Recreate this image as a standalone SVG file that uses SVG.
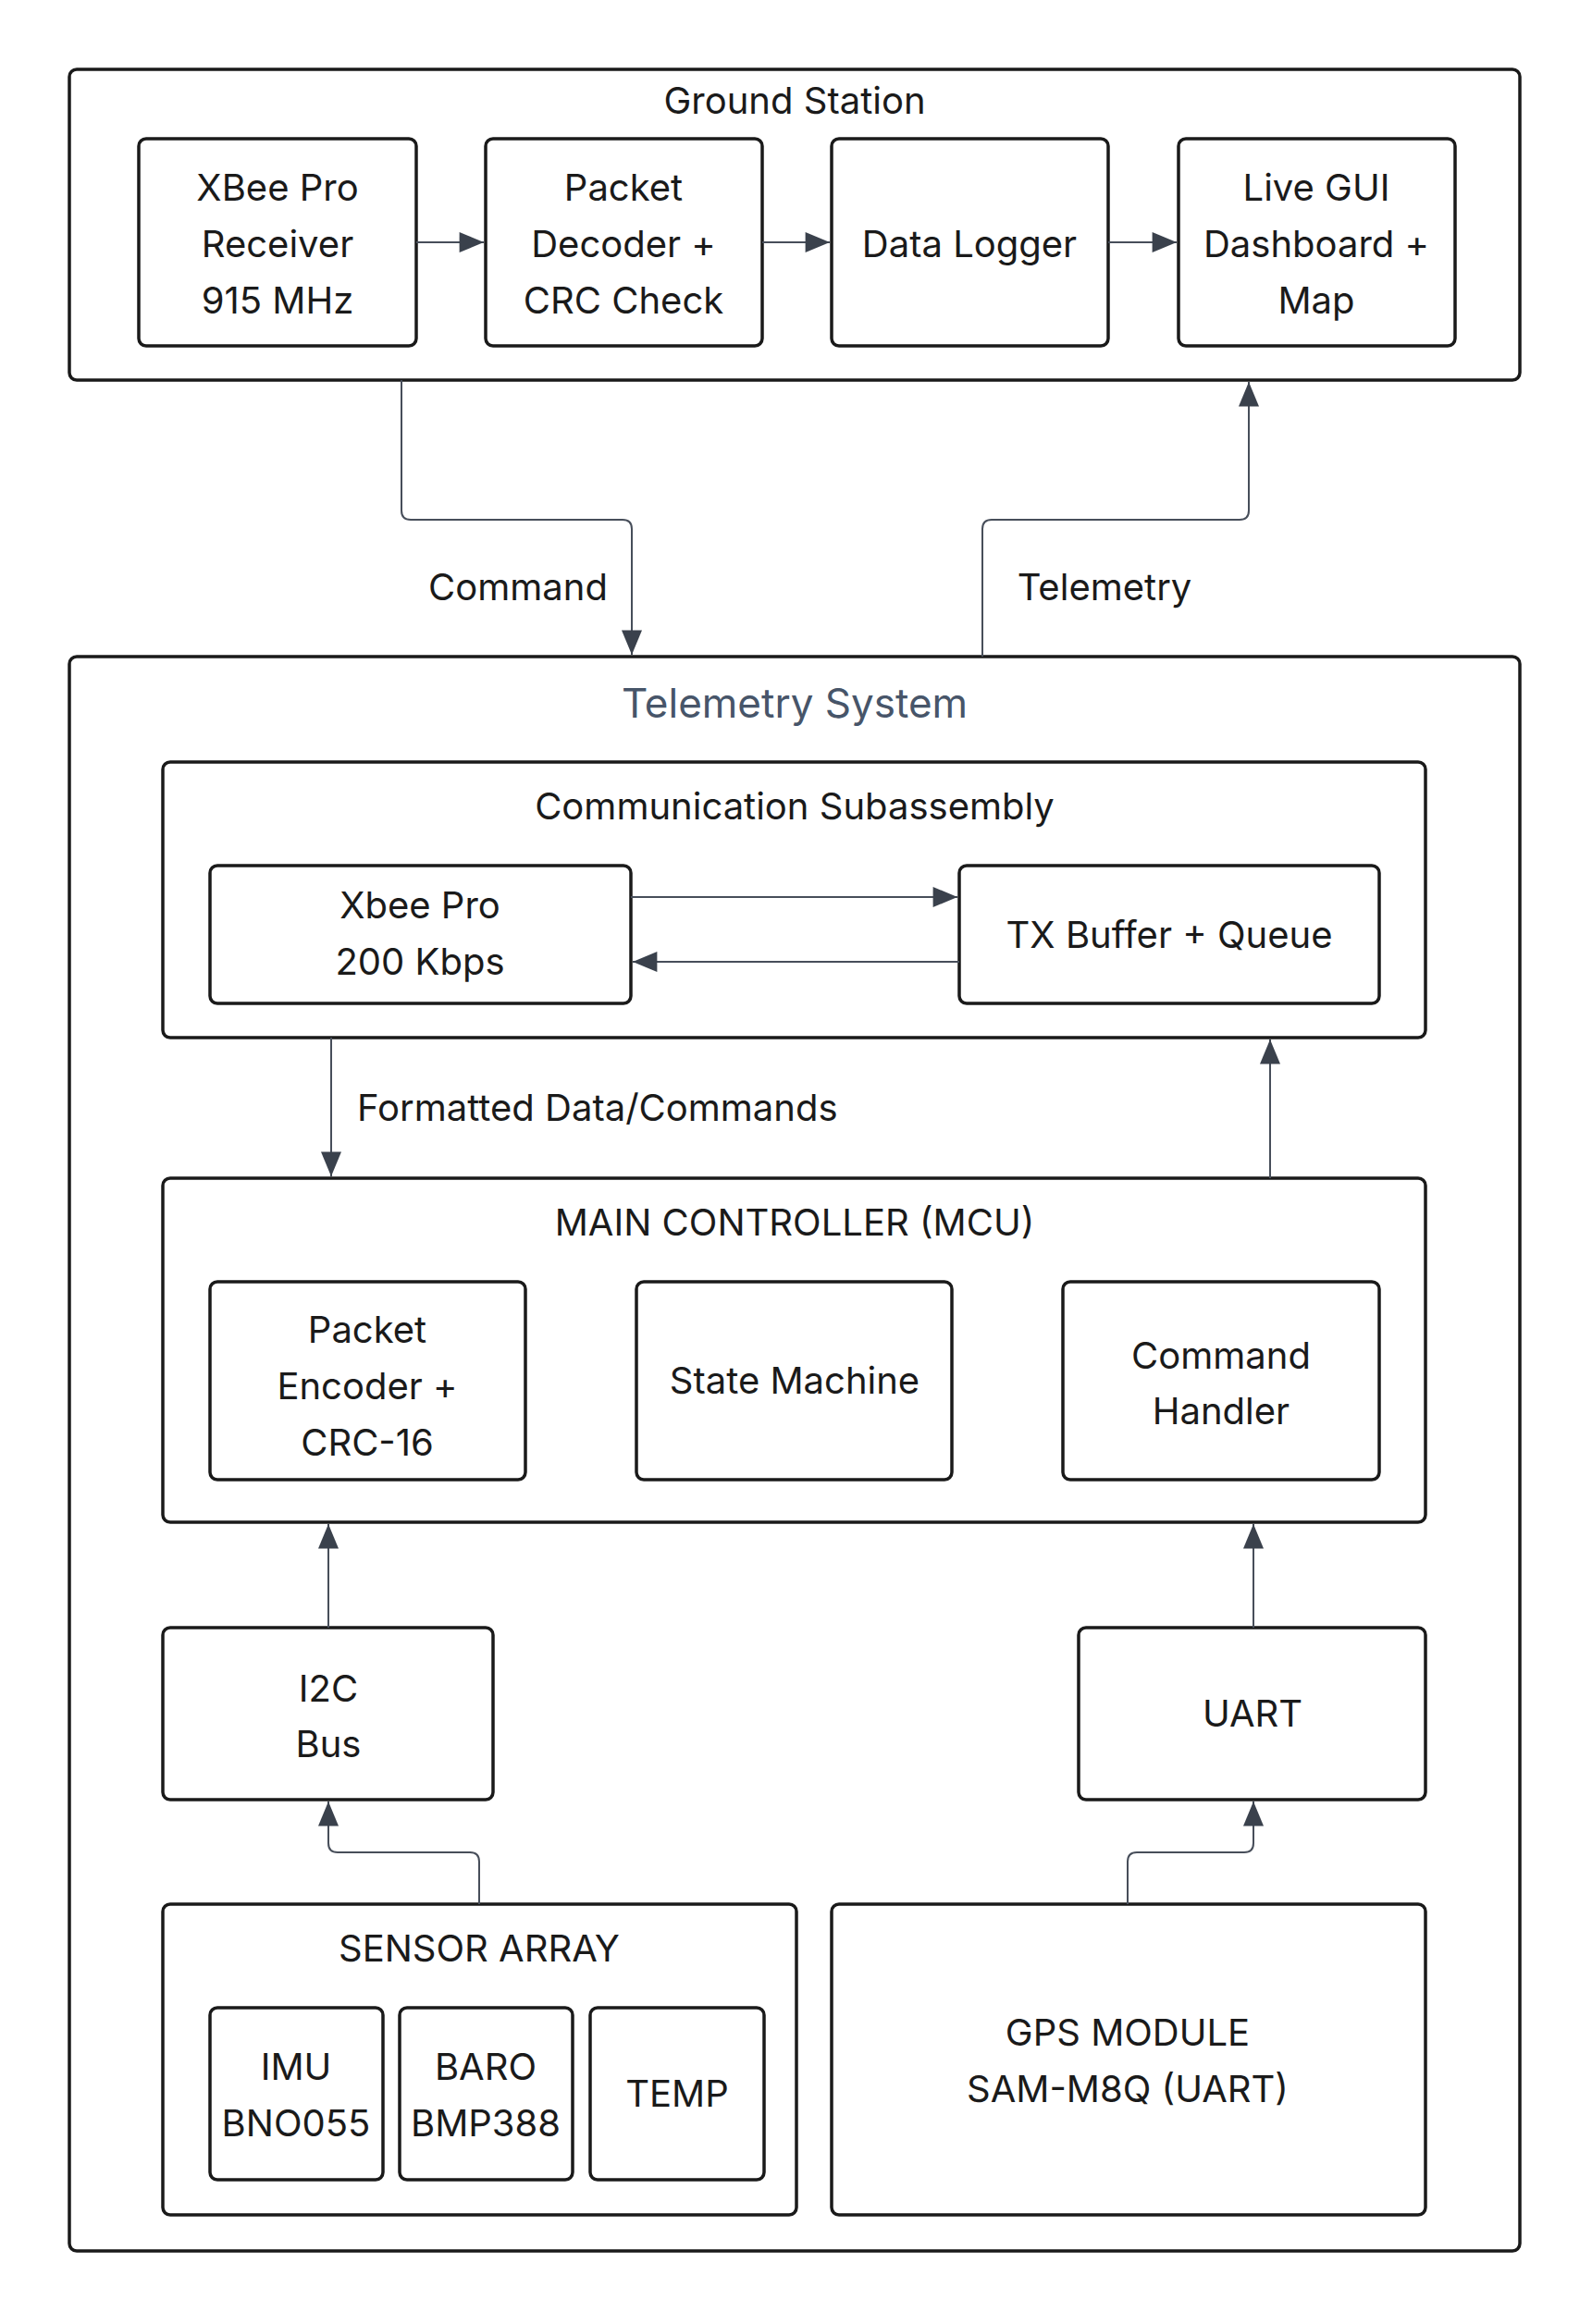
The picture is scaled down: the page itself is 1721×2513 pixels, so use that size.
<svg xmlns="http://www.w3.org/2000/svg" width="1721" height="2513" viewBox="0 0 1721 2513">
<style>
.b{fill:#fff;stroke:#1a1a1a;stroke-width:3.5}
.t{font-family:Inter,"Liberation Sans",sans-serif;font-size:40px;fill:#1a1a1a;text-anchor:middle}
.c{fill:none;stroke:#474e5a;stroke-width:2}
</style>
<defs><marker id="a" viewBox="0 0 10 10" refX="10" refY="5" markerWidth="10" markerHeight="10" markerUnits="userSpaceOnUse" orient="auto"><path d="M0,0L10,5L0,10z" fill="#474e5a"/></marker>
<marker id="m" viewBox="0 0 12 10" refX="12" refY="5" markerWidth="30" markerHeight="22" markerUnits="userSpaceOnUse" orient="auto"><path d="M0,0L12,5L0,10z" fill="#3a414c"/></marker></defs>
<rect width="1721" height="2513" fill="#fff"/>
<g id="ground"><rect class="b" x="75" y="75" width="1568" height="336" rx="8"/><text class="t" x="859" y="123">Ground Station</text></g>
<g id="gs1"><rect class="b" x="150" y="150" width="300" height="224" rx="8"/><text class="t" x="300" y="217">XBee Pro</text><text class="t" x="300" y="278">Receiver</text><text class="t" x="300" y="339">915 MHz</text></g>
<g id="gs2"><rect class="b" x="525" y="150" width="299" height="224" rx="8"/><text class="t" x="674" y="217">Packet</text><text class="t" x="674" y="278">Decoder +</text><text class="t" x="674" y="339">CRC Check</text></g>
<g id="gs3"><rect class="b" x="899" y="150" width="299" height="224" rx="8"/><text class="t" x="1048" y="278">Data Logger</text></g>
<g id="gs4"><rect class="b" x="1274" y="150" width="299" height="224" rx="8"/><text class="t" x="1423" y="217">Live GUI</text><text class="t" x="1423" y="278">Dashboard +</text><text class="t" x="1423" y="339">Map</text></g>
<g id="tsys"><rect class="b" x="75" y="710" width="1568" height="1724" rx="8"/><text class="t" x="859" y="776" style="fill:#475569;font-size:44px">Telemetry System</text></g>
<g id="comm"><rect class="b" x="176" y="824" width="1365" height="298" rx="8"/><text class="t" x="859" y="886">Communication Subassembly</text></g>
<g id="xbee"><rect class="b" x="227" y="936" width="455" height="149" rx="8"/><text class="t" x="454" y="993">Xbee Pro</text><text class="t" x="454" y="1054">200 Kbps</text></g>
<g id="txb"><rect class="b" x="1037" y="936" width="454" height="149" rx="8"/><text class="t" x="1264" y="1025">TX Buffer + Queue</text></g>
<g id="mcu"><rect class="b" x="176" y="1274" width="1365" height="372" rx="8"/><text class="t" x="859" y="1336">MAIN CONTROLLER (MCU)</text></g>
<g id="enc"><rect class="b" x="227" y="1386" width="341" height="214" rx="8"/><text class="t" x="397" y="1452">Packet</text><text class="t" x="397" y="1513">Encoder +</text><text class="t" x="397" y="1574">CRC-16</text></g>
<g id="sm"><rect class="b" x="688" y="1386" width="341" height="214" rx="8"/><text class="t" x="859" y="1507">State Machine</text></g>
<g id="ch"><rect class="b" x="1149" y="1386" width="342" height="214" rx="8"/><text class="t" x="1320" y="1480">Command</text><text class="t" x="1320" y="1540">Handler</text></g>
<g id="i2c"><rect class="b" x="176" y="1760" width="357" height="186" rx="8"/><text class="t" x="355" y="1840">I2C</text><text class="t" x="355" y="1900">Bus</text></g>
<g id="uart"><rect class="b" x="1166" y="1760" width="375" height="186" rx="8"/><text class="t" x="1354" y="1867">UART</text></g>
<g id="sensor"><rect class="b" x="176" y="2059" width="685" height="336" rx="8"/><text class="t" x="518" y="2121">SENSOR ARRAY</text></g>
<g id="imu"><rect class="b" x="227" y="2171" width="187" height="186" rx="8"/><text class="t" x="320" y="2249">IMU</text><text class="t" x="320" y="2310">BNO055</text></g>
<g id="baro"><rect class="b" x="432" y="2171" width="187" height="186" rx="8"/><text class="t" x="525" y="2249">BARO</text><text class="t" x="525" y="2310">BMP388</text></g>
<g id="temp"><rect class="b" x="638" y="2171" width="188" height="186" rx="8"/><text class="t" x="732" y="2278">TEMP</text></g>
<g id="gps"><rect class="b" x="899" y="2059" width="642" height="336" rx="8"/><text class="t" x="1219" y="2212">GPS MODULE</text><text class="t" x="1219" y="2273">SAM-M8Q (UART)</text></g>
<g id="connectors">
<path class="c" d="M450,262H523" marker-end="url(#m)"/>
<path class="c" d="M824,262H897" marker-end="url(#m)"/>
<path class="c" d="M1198,262H1272" marker-end="url(#m)"/>
<path class="c" d="M434,411V552q0,10 10,10H673q10,0 10,10V708" marker-end="url(#m)"/>
<path class="c" d="M1062,710V572q0,-10 10,-10H1340q10,0 10,-10V413" marker-end="url(#m)"/>
<path class="c" d="M682,970H1035" marker-end="url(#m)"/>
<path class="c" d="M1037,1040H684" marker-end="url(#m)"/>
<path class="c" d="M358,1122V1272" marker-end="url(#m)"/>
<path class="c" d="M1373,1274V1124" marker-end="url(#m)"/>
<path class="c" d="M355,1760V1648" marker-end="url(#m)"/>
<path class="c" d="M1355,1760V1648" marker-end="url(#m)"/>
<path class="c" d="M518,2059V2013q0,-10 -10,-10H365q-10,0 -10,-10V1948" marker-end="url(#m)"/>
<path class="c" d="M1219,2059V2013q0,-10 10,-10H1345q10,0 10,-10V1948" marker-end="url(#m)"/>
<text class="t" x="560" y="649">Command</text>
<text class="t" x="1194" y="649">Telemetry</text>
<text class="t" x="386" y="1212" style="text-anchor:start">Formatted Data/Commands</text>
</g>
</svg>
